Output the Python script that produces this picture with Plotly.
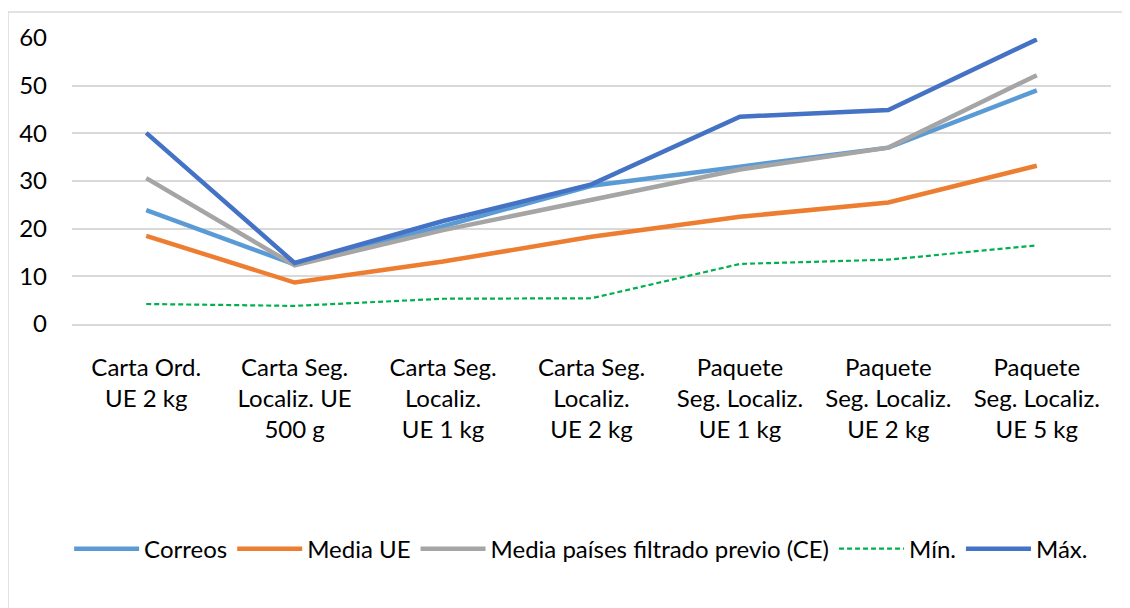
import plotly.graph_objects as go

categories = [
    "Carta Ord.<br>UE 2 kg",
    "Carta Seg.<br>Localiz. UE<br>500 g",
    "Carta Seg.<br>Localiz.<br>UE 1 kg",
    "Carta Seg.<br>Localiz.<br>UE 2 kg",
    "Paquete<br>Seg. Localiz.<br>UE 1 kg",
    "Paquete<br>Seg. Localiz.<br>UE 2 kg",
    "Paquete<br>Seg. Localiz.<br>UE 5 kg",
]
correos = [23.9, 12.5, 20.5, 29.0, 33.0, 37.0, 49.0]
media_ue = [18.5, 8.7, 13.1, 18.3, 22.5, 25.5, 33.2]
media_ce = [30.6, 12.3, 19.7, 26.0, 32.4, 37.0, 52.2]
minimo = [4.2, 3.8, 5.3, 5.4, 12.6, 13.5, 16.5]
maximo = [40.1, 12.8, 21.6, 29.3, 43.5, 44.9, 59.7]
y_ticks = [0, 10, 20, 30, 40, 50, 60]

FONT = "Lato, Liberation Sans, sans-serif"

fig = go.Figure()
series = [
    ("Correos", correos, "#5B9BD5", 4.5, "solid"),
    ("Media UE", media_ue, "#ED7D31", 4.5, "solid"),
    ("Media países filtrado previo (CE)", media_ce, "#A5A5A5", 4.5, "solid"),
    ("Mín.", minimo, "#00B050", 2.2, "5px,3px"),
    ("Máx.", maximo, "#4472C4", 4.5, "solid"),
]
for name, vals, color, w, dash in series:
    fig.add_trace(go.Scatter(
        x=categories, y=vals, name=name, mode="lines",
        line=dict(color=color, width=w, dash=dash),
    ))

fig.update_layout(
    width=1122, height=600,
    margin=dict(l=64, r=19, t=30, b=284),
    paper_bgcolor="white", plot_bgcolor="white",
    font=dict(family=FONT, size=24, color="black"),
    showlegend=True,
    legend=dict(orientation="h", x=0.49, xanchor="center", y=-0.787, yanchor="middle",
                font=dict(size=24), itemwidth=65, traceorder="normal"),
    shapes=[dict(type="rect", xref="paper", yref="paper",
                 x0=-0.0616, x1=1.2, y0=-2.0, y1=1.091,
                 line=dict(color="#D9D9D9", width=1.5), fillcolor="rgba(0,0,0,0)", layer="below")],
)
fig.update_xaxes(range=[-0.5, 6.5], showgrid=False, showline=True, linecolor="#D9D9D9", linewidth=1.5,
                 ticks="", ticklabelstandoff=21, tickangle=0)
fig.update_yaxes(range=[0, 60], tickvals=y_ticks, showgrid=True, gridcolor="#D9D9D9",
                 gridwidth=1.5, zeroline=False, showline=False, ticks="", ticklabelstandoff=24)

fig.write_html("out.html")
